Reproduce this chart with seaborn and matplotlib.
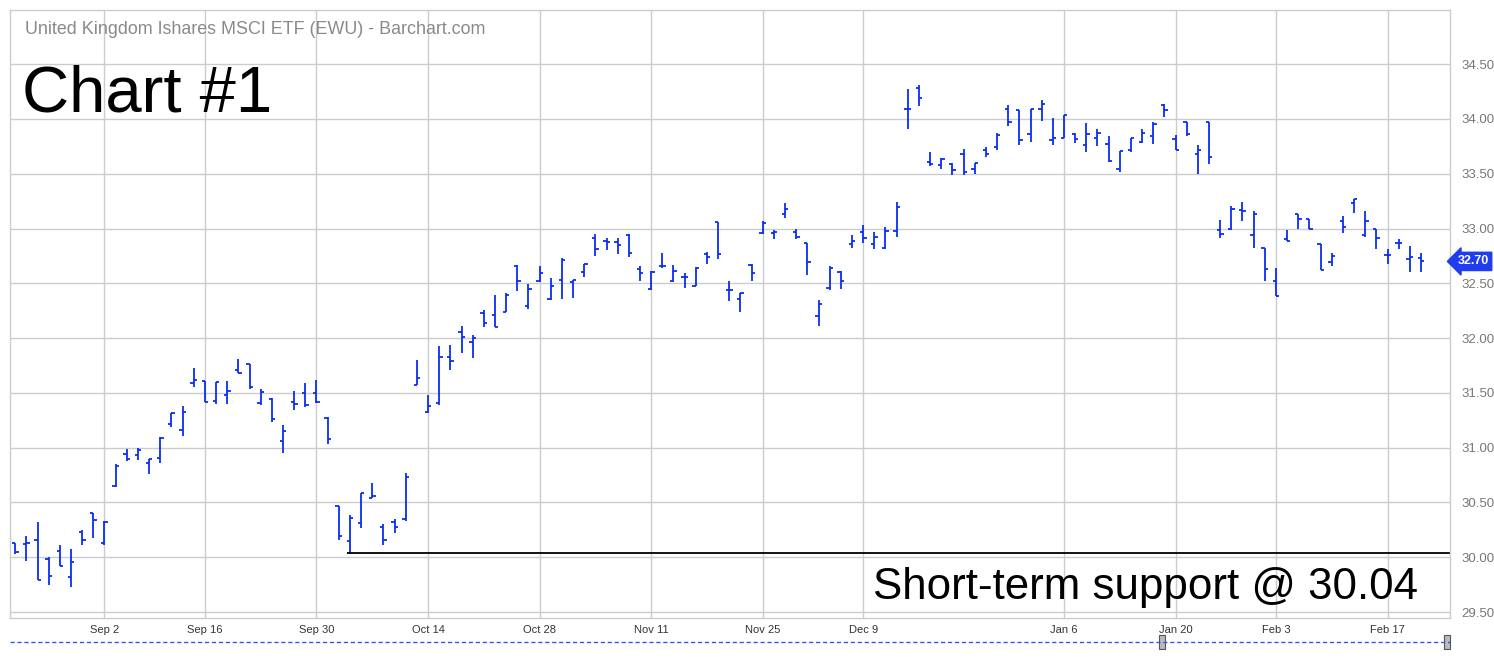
import pandas as pd
import numpy as np
import seaborn as sns
import matplotlib.pyplot as plt
from matplotlib.lines import Line2D
from matplotlib.patches import Rectangle
import matplotlib.transforms as mtransforms

# EWU daily bars, Aug 21 2019 - Feb 21 2020
opens = [30.13, 30.12, 30.16, 29.98, 30.06, 29.82, 30.23, 30.40, 30.13, 30.65,
         30.94, 30.93, 30.86, 30.91, 31.22, 31.16, 31.59, 31.61, 31.43, 31.48,
         31.71, 31.76, 31.41, 31.44, 31.06, 31.42, 31.50, 31.50, 31.27, 30.47,
         30.15, 30.31, 30.54, 30.28, 30.32, 30.35, 31.57, 31.33, 31.41, 31.83,
         32.06, 31.96, 32.23, 32.21, 32.24, 32.66, 32.29, 32.52, 32.36, 32.53,
         32.51, 32.60, 32.91, 32.89, 32.88, 32.94, 32.63, 32.45, 32.66, 32.52,
         32.56, 32.48, 32.77, 33.06, 32.44, 32.36, 32.67, 32.96, 32.96, 33.13,
         32.97, 32.87, 32.20, 32.46, 32.60, 32.86, 32.97, 32.86, 32.82, 32.98,
         34.09, 34.28, 33.61, 33.58, 33.59, 33.68, 33.54, 33.72, 33.74, 34.09,
         34.08, 33.86, 34.09, 33.81, 33.83, 33.86, 33.76, 33.83, 33.77, 33.54,
         33.72, 33.79, 33.84, 34.13, 33.82, 33.97, 33.68, 33.97, 32.99, 33.00,
         33.17, 32.94, 32.82, 32.52, 32.90, 33.13, 33.09, 32.86, 32.69, 33.07,
         33.23, 32.94, 33.00, 32.76, 32.87, 32.72, 32.73]
highs = [30.13, 30.19, 30.32, 30.00, 30.11, 30.08, 30.25, 30.40, 30.33, 30.85,
         30.99, 31.00, 30.90, 31.10, 31.32, 31.38, 31.73, 31.61, 31.60, 31.61,
         31.81, 31.76, 31.54, 31.45, 31.21, 31.52, 31.59, 31.62, 31.28, 30.47,
         30.39, 30.59, 30.68, 30.30, 30.35, 30.77, 31.80, 31.48, 31.93, 31.94,
         32.11, 32.03, 32.26, 32.39, 32.41, 32.67, 32.49, 32.66, 32.55, 32.73,
         32.53, 32.68, 32.95, 32.91, 32.91, 32.95, 32.66, 32.61, 32.78, 32.67,
         32.59, 32.65, 32.79, 33.06, 32.52, 32.41, 32.68, 33.07, 32.99, 33.23,
         33.00, 32.87, 32.35, 32.66, 32.61, 32.94, 33.03, 32.97, 33.01, 33.24,
         34.27, 34.31, 33.70, 33.64, 33.60, 33.73, 33.60, 33.74, 33.87, 34.13,
         34.08, 34.09, 34.17, 34.01, 34.04, 33.87, 33.96, 33.91, 33.84, 33.71,
         33.83, 33.91, 33.97, 34.14, 33.85, 33.97, 33.76, 33.97, 33.08, 33.21,
         33.24, 33.16, 32.82, 32.64, 32.99, 33.13, 33.09, 32.86, 32.78, 33.11,
         33.27, 33.16, 33.00, 32.81, 32.90, 32.84, 32.78]
lows = [30.03, 29.97, 29.79, 29.75, 29.92, 29.73, 30.11, 30.18, 30.11, 30.64,
        30.88, 30.89, 30.76, 30.86, 31.19, 31.11, 31.55, 31.42, 31.40, 31.40,
        31.68, 31.54, 31.39, 31.23, 30.95, 31.34, 31.37, 31.41, 31.03, 30.16,
        30.04, 30.27, 30.54, 30.11, 30.22, 30.33, 31.57, 31.32, 31.39, 31.71,
        31.86, 31.82, 32.10, 32.10, 32.24, 32.43, 32.27, 32.51, 32.35, 32.36,
        32.37, 32.56, 32.75, 32.80, 32.77, 32.74, 32.52, 32.44, 32.64, 32.51,
        32.46, 32.48, 32.68, 32.72, 32.34, 32.24, 32.52, 32.95, 32.90, 33.10,
        32.90, 32.58, 32.11, 32.44, 32.45, 32.82, 32.87, 32.81, 32.81, 32.92,
        33.91, 34.12, 33.57, 33.54, 33.49, 33.49, 33.50, 33.65, 33.72, 33.94,
        33.76, 33.79, 33.98, 33.76, 33.83, 33.78, 33.70, 33.75, 33.61, 33.52,
        33.70, 33.78, 33.77, 34.02, 33.72, 33.84, 33.50, 33.59, 32.91, 32.99,
        33.07, 32.82, 32.52, 32.38, 32.89, 33.00, 33.00, 32.62, 32.66, 32.96,
        33.14, 32.92, 32.81, 32.68, 32.81, 32.60, 32.60]
closes = [30.05, 30.13, 29.79, 29.83, 29.92, 29.96, 30.16, 30.34, 30.32, 30.83,
          30.90, 30.98, 30.90, 31.09, 31.32, 31.33, 31.62, 31.42, 31.60, 31.52,
          31.68, 31.55, 31.51, 31.26, 31.15, 31.40, 31.39, 31.42, 31.08, 30.19,
          30.36, 30.59, 30.56, 30.16, 30.28, 30.73, 31.64, 31.38, 31.83, 31.79,
          32.01, 32.00, 32.14, 32.10, 32.39, 32.52, 32.45, 32.59, 32.48, 32.71,
          32.53, 32.68, 32.81, 32.88, 32.85, 32.78, 32.59, 32.60, 32.66, 32.61,
          32.56, 32.64, 32.74, 32.77, 32.44, 32.41, 32.59, 33.05, 32.97, 33.18,
          32.92, 32.69, 32.31, 32.64, 32.52, 32.89, 32.91, 32.92, 32.98, 33.20,
          34.09, 34.19, 33.59, 33.63, 33.53, 33.52, 33.60, 33.68, 33.85, 33.97,
          33.81, 34.09, 34.14, 33.83, 34.04, 33.82, 33.86, 33.87, 33.62, 33.71,
          33.83, 33.87, 33.95, 34.08, 33.72, 33.86, 33.72, 33.65, 32.95, 33.18,
          33.16, 33.13, 32.63, 32.38, 32.89, 33.09, 33.00, 32.62, 32.75, 33.01,
          33.27, 33.07, 32.91, 32.76, 32.87, 32.74, 32.70]

holidays = ['2019-09-02', '2019-11-28', '2019-12-25', '2020-01-01', '2020-01-20', '2020-02-17']
tick_dates = ['2019-09-02', '2019-09-16', '2019-09-30', '2019-10-14', '2019-10-28', '2019-11-11',
              '2019-11-25', '2019-12-09', '2020-01-06', '2020-01-20', '2020-02-03', '2020-02-17']
tick_labels = ['Sep 2', 'Sep 16', 'Sep 30', 'Oct 14', 'Oct 28', 'Nov 11',
               'Nov 25', 'Dec 9', 'Jan 6', 'Jan 20', 'Feb 3', 'Feb 17']
support_level = 30.04
support_start = '2019-10-03'

days = pd.bdate_range('2019-08-21', '2020-02-21')
days = days[~days.isin(pd.to_datetime(holidays))]
df = pd.DataFrame({'Date': days, 'Open': opens, 'High': highs, 'Low': lows, 'Close': closes})
df['i'] = np.arange(len(df))

sns.set_theme(style='whitegrid')
plt.rcParams['font.family'] = ['Liberation Sans', 'DejaVu Sans']

W, H = 1494, 658
fig = plt.figure(figsize=(W / 100, H / 100), dpi=100)
ax = fig.add_axes([10 / W, 1 - 618 / H, 1440 / W, 608 / H])

blue = '#0a2df5'
tk = 0.3
ax.vlines(df['i'], df['Low'], df['High'], color=blue, lw=1.3)
ax.hlines(df['Open'], df['i'] - tk, df['i'], color=blue, lw=1.3)
ax.hlines(df['Close'], df['i'], df['i'] + tk, color=blue, lw=1.3)

# support line
s_idx = df.loc[df['Date'] == pd.Timestamp(support_start), 'i'].iloc[0]
ax.hlines(support_level, s_idx - 0.3, 200, color='black', lw=1.3)

ax.set_xlim(-0.47, 128.6)
ax.set_ylim(29.446, 34.994)

tick_pos = [int(np.searchsorted(df['Date'].values, np.datetime64(d))) for d in tick_dates]
ax.set_xticks(tick_pos)
ax.set_xticklabels(tick_labels)
ax.set_yticks(np.arange(29.5, 34.51, 0.5))
ax.set_yticklabels([f'{v:.2f}' for v in np.arange(29.5, 34.51, 0.5)])
ax.yaxis.tick_right()
ax.tick_params(axis='y', length=0, pad=8, labelsize=9.5, labelcolor='#777777')
ax.tick_params(axis='x', length=0, pad=5, labelsize=8, labelcolor='#333333')
ax.grid(True, color='#cccccc', lw=1)
for sp in ax.spines.values():
    sp.set_color('#cccccc')
    sp.set_linewidth(1)

# last price label
last = closes[-1]
trans = mtransforms.blended_transform_factory(ax.transAxes, ax.transData)
ax.text(1.0 + 23 / 1440, last, f'{last:.2f}', transform=trans, ha='center', va='center',
        color='white', fontsize=9, fontweight='bold',
        bbox=dict(boxstyle='larrow,pad=0.25', fc='#1f3cf0', ec='#1f3cf0'))

fig.text(25 / W, 1 - 29 / H, 'United Kingdom Ishares MSCI ETF (EWU) - Barchart.com',
         ha='left', va='center', fontsize=12.9, color='#8a8a8a')
fig.text(22 / W, 1 - 111 / H, 'Chart #1', ha='left', va='baseline', fontsize=47, color='black')
fig.text(1418 / W, 1 - 599 / H, 'Short-term support @ 30.04', ha='right', va='baseline',
         fontsize=31.6, color='black')

# scrollbar at the bottom
fig.add_artist(Line2D([10 / W, 1450 / W], [1 - 642 / H, 1 - 642 / H], color='#3355ee',
                      lw=1, ls=(0, (3, 2)), transform=fig.transFigure))
for hx in [1162, 1447]:
    fig.add_artist(Rectangle(((hx - 3) / W, 1 - 649 / H), 6 / W, 14 / H, transform=fig.transFigure,
                             fc='#bbbbbb', ec='#555555', lw=0.8))

plt.savefig('out.png', dpi=100)
